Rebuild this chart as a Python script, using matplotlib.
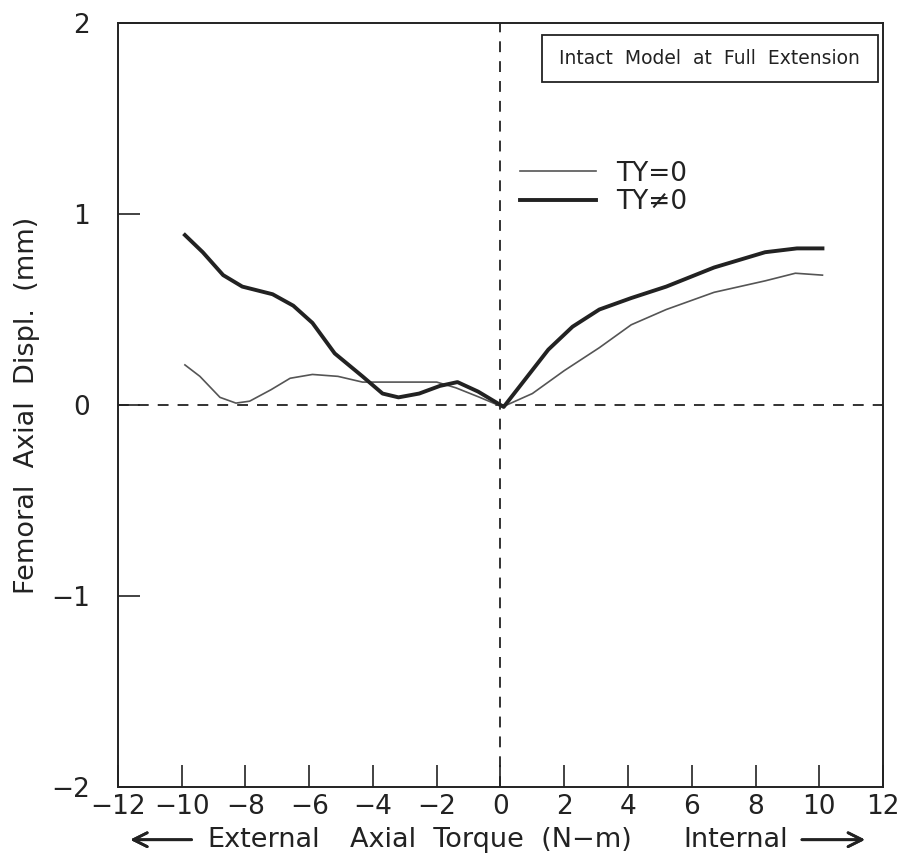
import matplotlib
matplotlib.use("Agg")
import matplotlib.pyplot as plt
from matplotlib.patches import Rectangle

# femoral axial displacement vs axial torque, intact model at full extension
torque_ty0 = [-9.9, -9.43, -8.8, -8.3, -7.87, -7.2, -6.6, -5.9, -5.1, -4.33, -3.3,
              -2.0, -1.4, -0.65, 0.06, 1.0, 2.0, 3.1, 4.1, 5.2, 6.7, 8.3, 9.25, 10.1]
displ_ty0 = [0.21, 0.15, 0.04, 0.01, 0.02, 0.08, 0.14, 0.16, 0.15, 0.12, 0.12,
             0.12, 0.09, 0.04, -0.01, 0.06, 0.18, 0.30, 0.42, 0.50, 0.59, 0.65, 0.69, 0.68]

torque_ty = [-9.9, -9.34, -8.7, -8.1, -7.15, -6.5, -5.9, -5.2, -4.33, -3.7, -3.2, -2.55,
             -1.9, -1.35, -0.7, 0.1, 0.8, 1.5, 2.26, 3.1, 4.1, 5.2, 6.7, 8.3, 9.3, 10.1]
displ_ty = [0.89, 0.80, 0.68, 0.62, 0.58, 0.52, 0.43, 0.27, 0.15, 0.06, 0.04, 0.06,
            0.10, 0.12, 0.07, -0.01, 0.14, 0.29, 0.41, 0.50, 0.56, 0.62, 0.72, 0.80, 0.82, 0.82]

xticks = list(range(-12, 13, 2))
yticks = [-2, -1, 0, 1, 2]

plt.rcParams['font.family'] = ['DejaVu Sans']
ink = '#222222'

fig = plt.figure(figsize=(9.04, 8.63), dpi=100)
ax = fig.add_axes([0.1305, 0.0881, 0.8463, 0.8852])

ax.axhline(0, color=ink, lw=1.3, dashes=(6, 5))
ax.axvline(0, color=ink, lw=1.3, dashes=(6, 5))

ax.plot(torque_ty0, displ_ty0, color='#555555', lw=1.2, label='TY=0')
ax.plot(torque_ty, displ_ty, color=ink, lw=2.8, label='TY\u22600')

ax.set_xlim(-12, 12)
ax.set_ylim(-2, 2)
ax.set_xticks(xticks)
ax.set_yticks(yticks)
ax.set_xticklabels([str(v).replace('-', '\u2212') for v in xticks])
ax.set_yticklabels([str(v).replace('-', '\u2212') for v in yticks])
ax.tick_params(axis='both', direction='in', length=16, width=1.2, color=ink,
               labelsize=19, labelcolor=ink)
ax.tick_params(axis='x', pad=5)
ax.tick_params(axis='y', pad=20)
for s in ax.spines.values():
    s.set_linewidth(1.4)
    s.set_color(ink)

ax.set_ylabel('Femoral  Axial  Displ.  (mm)', fontsize=19.5, color=ink, labelpad=8)

leg = ax.legend(loc='upper left', bbox_to_anchor=(0.525, 0.82), frameon=False,
                fontsize=19, handlelength=2.9, handletextpad=0.75,
                labelspacing=0.1, borderpad=0, borderaxespad=0)
for t in leg.get_texts():
    t.set_color(ink)

ax.add_patch(Rectangle((0.554, 0.9228), 0.439, 0.0615, transform=ax.transAxes,
                       fill=False, lw=1.3, edgecolor=ink))
ax.text(0.7735, 0.9535, 'Intact  Model  at  Full  Extension', transform=ax.transAxes,
        ha='center', va='center', fontsize=13.5, color=ink)

# x axis label pieces with direction arrows
fig.text(0.229, 0.027, 'External', ha='left', va='center', fontsize=19.5, color=ink)
fig.text(0.387, 0.027, 'Axial  Torque  (N\u2212m)', ha='left', va='center',
         fontsize=19.5, color=ink)
fig.text(0.756, 0.027, 'Internal', ha='left', va='center', fontsize=19.5, color=ink)
arrow_style = dict(arrowstyle='->,head_length=1.0,head_width=0.5', lw=2, color=ink)
fig.add_artist(plt.annotate('', xy=(0.141, 0.027), xytext=(0.215, 0.027),
                            xycoords='figure fraction', arrowprops=arrow_style))
fig.add_artist(plt.annotate('', xy=(0.96, 0.027), xytext=(0.884, 0.027),
                            xycoords='figure fraction', arrowprops=arrow_style))

fig.savefig('out.png', dpi=100)
